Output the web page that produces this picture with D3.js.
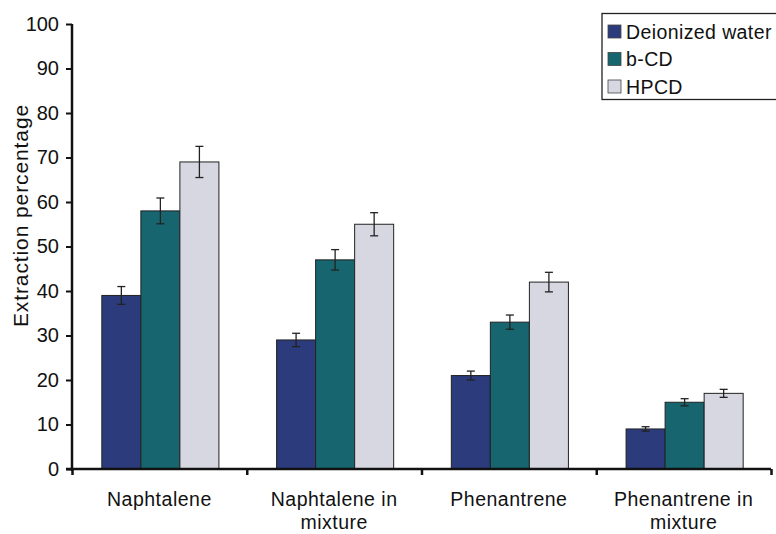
<!DOCTYPE html>
<html><head><meta charset="utf-8">
<script src="https://cdn.jsdelivr.net/npm/d3@7"></script>
<style>body{margin:0;background:#fff}svg{display:block}text{font-family:"Liberation Sans",Arial,sans-serif;fill:#111}</style>
</head><body><svg id="c" width="776" height="534"></svg>
<script>
const categories = [["Naphtalene"], ["Naphtalene in", "mixture"], ["Phenantrene"], ["Phenantrene in", "mixture"]];
const seriesNames = ["Deionized water", "b-CD", "HPCD"];
const seriesColors = ["#2c3b7b", "#17666f", "#d7d7e1"];
const water = [39, 29, 21, 9];
const bcd = [58, 47, 33, 15];
const hpcd = [69, 55, 42, 17];
const waterErr = [2.0, 1.5, 1.0, 0.5];
const bcdErr = [2.9, 2.3, 1.6, 0.8];
const hpcdErr = [3.5, 2.6, 2.2, 0.9];
const yTicks = [0, 10, 20, 30, 40, 50, 60, 70, 80, 90, 100];

const values = [water, bcd, hpcd];
const errs = [waterErr, bcdErr, hpcdErr];
const svg = d3.select("#c");
const x0 = d3.scaleBand().domain(d3.range(categories.length)).range([72, 771]).paddingInner(0.33).paddingOuter(0.165);
const x1 = d3.scaleBand().domain(d3.range(3)).range([0, x0.bandwidth()]);
const y = d3.scaleLinear().domain([0, 100]).range([469, 24]);

// bars
categories.forEach((c, i) => {
  const g = svg.append("g").attr("transform", `translate(${x0(i) + 1},0)`);
  values.forEach((vals, s) => {
    g.append("rect").attr("x", x1(s)).attr("y", y(vals[i])).attr("width", x1.bandwidth()).attr("height", y(0) - y(vals[i]))
      .attr("fill", seriesColors[s]).attr("stroke", "#222").attr("stroke-width", 1);
    const cx = x1(s) + x1.bandwidth() / 2;
    const e = errs[s][i];
    g.append("line").attr("x1", cx).attr("x2", cx).attr("y1", y(vals[i] + e)).attr("y2", y(vals[i] - e)).attr("stroke", "#222").attr("stroke-width", 1.3);
    [vals[i] + e, vals[i] - e].forEach(v => g.append("line").attr("x1", cx - 4).attr("x2", cx + 4).attr("y1", y(v)).attr("y2", y(v)).attr("stroke", "#222").attr("stroke-width", 1.3));
  });
});

// y axis
const yAxis = svg.append("g").attr("transform", "translate(72,0)").call(d3.axisLeft(y).tickValues(yTicks).tickSize(6).tickPadding(7));
yAxis.select(".domain").attr("stroke", "#111").attr("stroke-width", 2.5).attr("d", `M0,${y(100)}V${y(0) + 2}`);
yAxis.selectAll(".tick line").attr("stroke", "#111").attr("stroke-width", 2);
yAxis.selectAll(".tick text").attr("font-size", 20).attr("font-family", "Liberation Sans, Arial, sans-serif").attr("fill", "#111");

// x axis
const xt = d3.scaleLinear().domain([0, 4]).range([72, 771]);
const xAxis = svg.append("g").attr("transform", `translate(0,${y(0)})`).call(d3.axisBottom(xt).tickValues([0, 1, 2, 3, 4]).tickSize(6).tickFormat(""));
xAxis.select(".domain").attr("stroke", "#111").attr("stroke-width", 2.5).attr("d", "M66,0H771");
xAxis.selectAll(".tick line").attr("stroke", "#111").attr("stroke-width", 2.5);

// category labels
categories.forEach((lines, i) => {
  const t = svg.append("text").attr("x", xt(i + 0.5)).attr("y", 506).attr("text-anchor", "middle").attr("font-size", 19.5).attr("letter-spacing", 0.5);
  lines.forEach((l, k) => t.append("tspan").attr("x", xt(i + 0.5)).attr("dy", k === 0 ? 0 : 22.5).text(l));
});

// y title
svg.append("text").attr("transform", "translate(28,215.5) rotate(-90)").attr("text-anchor", "middle").attr("font-size", 21).attr("letter-spacing", 0.9).text("Extraction percentage");

// legend
const lg = svg.append("g");
lg.append("rect").attr("x", 602).attr("y", 13.5).attr("width", 190).attr("height", 86).attr("fill", "#fff").attr("stroke", "#222").attr("stroke-width", 1.3);
seriesNames.forEach((n, s) => {
  const yy = 32 + s * 27.5;
  lg.append("rect").attr("x", 608).attr("y", yy - 7).attr("width", 13).attr("height", 13).attr("fill", seriesColors[s]).attr("stroke", "#444").attr("stroke-width", 0.8);
  lg.append("text").attr("x", 626).attr("y", yy + 6.5).attr("font-size", 19.5).attr("letter-spacing", 0.4).text(n);
});
</script></body></html>
